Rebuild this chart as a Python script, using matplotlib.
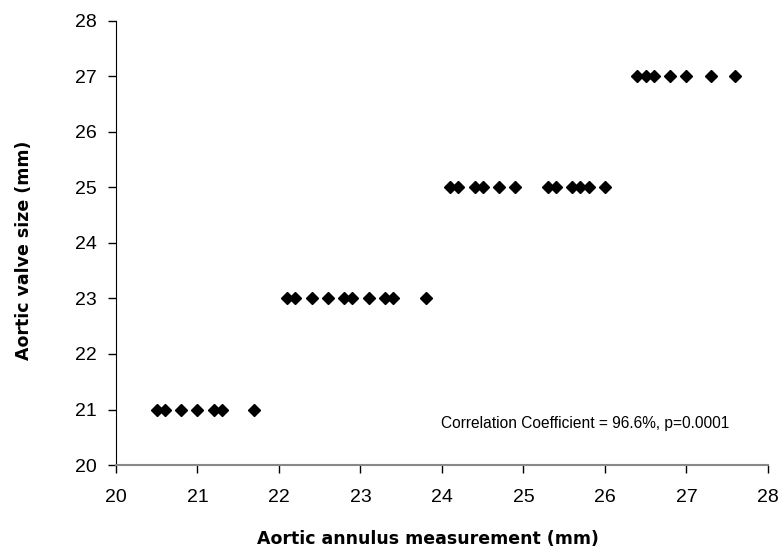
import numpy as np
import matplotlib.pyplot as plt

# annulus measurement (mm) for each valve size group
annulus_21 = [20.5, 20.6, 20.8, 21.0, 21.2, 21.3, 21.7]
annulus_23 = [22.1, 22.2, 22.4, 22.6, 22.8, 22.9, 23.1, 23.3, 23.4, 23.8]
annulus_25 = [24.1, 24.2, 24.4, 24.5, 24.7, 24.9, 25.3, 25.4, 25.6, 25.7, 25.8, 26.0]
annulus_27 = [26.4, 26.5, 26.6, 26.8, 27.0, 27.3, 27.6]
valve_sizes = [21, 23, 25, 27]

x_ticks = list(range(20, 29))
y_ticks = list(range(20, 29))

plt.rcParams['font.family'] = ['Liberation Sans', 'DejaVu Sans']

fig = plt.figure(figsize=(7.78, 5.5), dpi=100)
ax = fig.add_axes([0.149, 0.1545, 0.838, 0.8075])

groups = [annulus_21, annulus_23, annulus_25, annulus_27]
for size, xs in zip(valve_sizes, groups):
    ax.plot(xs, [size] * len(xs), 'D', color='black', markersize=6.3, linestyle='none')

ax.set_xlim(20, 28)
ax.set_ylim(20, 28)
ax.set_xticks(x_ticks)
ax.set_yticks(y_ticks)
ax.tick_params(labelsize=14, direction='out', length=6, width=1, color='black')
ax.tick_params(axis='x', pad=11)
ax.tick_params(axis='y', pad=8)

for s in ['top', 'right']:
    ax.spines[s].set_visible(False)
ax.spines['left'].set_color('black')
ax.spines['bottom'].set_color('#888888')
ax.spines['bottom'].set_linewidth(1.5)

# wider bold face stands in for the letter-spaced labels of the original
ax.set_xlabel('Aortic annulus measurement (mm)', fontsize=12.5, fontweight='bold',
              family='DejaVu Sans')
ax.set_ylabel('Aortic valve size (mm)', fontsize=12.5, fontweight='bold',
              family='DejaVu Sans')
ax.xaxis.set_label_coords(0.479, -0.146)
ax.yaxis.set_label_coords(-0.127, 0.484)

ax.text(25.76, 20.74, 'Correlation Coefficient = 96.6%, p=0.0001', fontsize=11.2,
        ha='center', va='center')

fig.savefig('out.png', dpi=100)
